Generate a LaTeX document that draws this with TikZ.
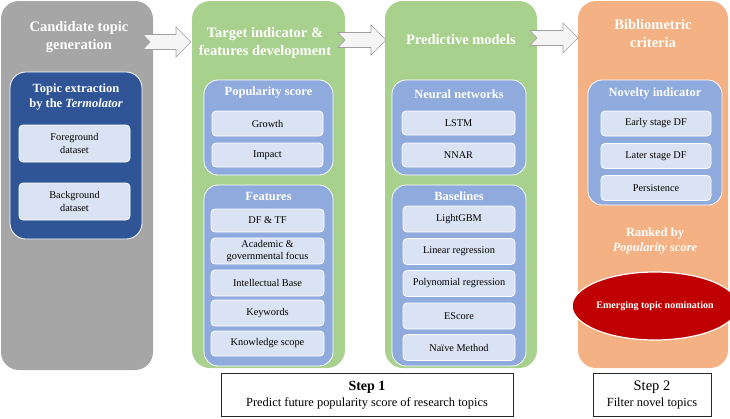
\documentclass[tikz,border=0pt]{standalone}
\usepackage{fontspec}
\setmainfont{Liberation Serif}
\usetikzlibrary{shapes.geometric}

\definecolor{colgray}{HTML}{A6A6A6}
\definecolor{colgreen}{HTML}{A9D18E}
\definecolor{colorange}{HTML}{F4B183}
\definecolor{darkblue}{HTML}{2F5597}
\definecolor{midblue}{HTML}{8FAADC}
\definecolor{lightblue}{HTML}{DAE3F3}
\definecolor{darkred}{HTML}{C00000}

\tikzstyle{colstyle} = [rectangle, rounded corners=18pt, inner sep=0]
\tikzstyle{titlestyle} = [text=white, font=\fontsize{14.5}{18}\selectfont\bfseries, align=center]
\tikzstyle{groupstyle} = [rectangle, rounded corners=14pt, draw=white, line width=0.8pt, fill=midblue, inner sep=0]
\tikzstyle{grouptitle} = [text=white, font=\fontsize{12.5}{15}\selectfont\bfseries, align=center]
\tikzstyle{itemstyle} = [rectangle, rounded corners=4pt, draw=white, line width=0.8pt, fill=lightblue, minimum width=111pt, font=\fontsize{10.3}{12.5}\selectfont, align=center, inner sep=0]
\tikzstyle{stepstyle} = [rectangle, draw=black!85, line width=0.8pt, fill=white, align=center, inner sep=0, font=\fontsize{12.4}{16}\selectfont]
\tikzstyle{blockarrow} = [draw=gray!75, fill=gray!8, line width=0.6pt]

\begin{document}
\begin{tikzpicture}[x=1pt, y=-1pt]
  \useasboundingbox (0,0) rectangle (730,418);

  % columns
  \node at (77,185.5) [colstyle, fill=colgray, minimum width=152pt, minimum height=369pt] (cand) {};
  \node at (268.5,184.5) [colstyle, fill=colgreen, minimum width=153pt, minimum height=367pt] (target) {};
  \node at (461,184.5) [colstyle, fill=colgreen, minimum width=152pt, minimum height=367pt] (pred) {};
  \node at (653,184.5) [colstyle, fill=colorange, minimum width=150pt, minimum height=367pt] (biblio) {};

  \node at (79,37) [titlestyle] (candT) {Candidate topic\\generation};
  \node at (265,43) [titlestyle] (targetT) {Target indicator \&\\features development};
  \node at (461,40) [titlestyle] (predT) {Predictive models};
  \node at (653,34) [titlestyle] (biblioT) {Bibliometric\\criteria};

  % block arrows
  \foreach \x/\y in {143/42, 338/40, 530/38}
    \draw[blockarrow] ({\x},{\y-7.5}) -- ++(33,0) -- ++(0,-7.5) -- ++(15,15) -- ++(-15,15)
      -- ++(0,-7.5) -- ++(-33,0) -- ++(7,-7.5) -- cycle;

  % candidate topic generation
  \node at (76,155.5) [groupstyle, fill=darkblue, rounded corners=16pt, minimum width=132pt, minimum height=167pt] (termo) {};
  \node at (76,97.5) [grouptitle] (termoT) {Topic extraction\\by the \textit{Termolator}};
  \node at (74.5,143.5) [itemstyle, minimum height=37pt] (fg) {Foreground\\dataset};
  \node at (74.5,201.5) [itemstyle, minimum height=37pt] (bg) {Background\\dataset};

  % target indicator
  \node at (268.5,127.5) [groupstyle, minimum width=129pt, minimum height=95pt] (pop) {};
  \node at (268.5,93) [grouptitle] (popT) {Popularity score};
  \node at (267.5,123.5) [itemstyle, minimum height=25pt] (growth) {Growth};
  \node at (267.5,155) [itemstyle, minimum height=24pt] (impact) {Impact};

  \node at (268.5,275.5) [groupstyle, minimum width=129pt, minimum height=181pt] (feat) {};
  \node at (268.5,196) [grouptitle] (featT) {Features};
  \node at (267.5,220.5) [itemstyle, minimum width=113pt, minimum height=23pt] (dftf) {DF \& TF};
  \node at (267.5,251) [itemstyle, minimum width=113pt, minimum height=26pt] (acad) {Academic \&\\governmental focus};
  \node at (267.5,283) [itemstyle, minimum width=113pt, minimum height=26pt] (intel) {Intellectual Base};
  \node at (267.5,313) [itemstyle, minimum width=113pt, minimum height=26pt] (keyw) {Keywords};
  \node at (267.5,343.5) [itemstyle, minimum width=113pt, minimum height=25pt] (know) {Knowledge scope};

  % predictive models
  \node at (459,127.5) [groupstyle, minimum width=134pt, minimum height=95pt] (nn) {};
  \node at (459,94) [grouptitle] (nnT) {Neural networks};
  \node at (458.5,123) [itemstyle, minimum width=113pt, minimum height=24pt] (lstm) {LSTM};
  \node at (458.5,155) [itemstyle, minimum width=113pt, minimum height=24pt] (nnar) {NNAR};

  \node at (459,275.5) [groupstyle, minimum width=134pt, minimum height=181pt] (base) {};
  \node at (459,196) [grouptitle] (baseT) {Baselines};
  \node at (459,219) [itemstyle, minimum width=112pt, minimum height=26pt] (lgbm) {LightGBM};
  \node at (459,251.5) [itemstyle, minimum width=112pt, minimum height=26pt] (linreg) {Linear regression};
  \node at (459,283.5) [itemstyle, minimum width=112pt, minimum height=26pt] (polyreg) {Polynomial regression};
  \node at (459,316) [itemstyle, minimum width=112pt, minimum height=26pt] (escore) {EScore};
  \node at (459,347.5) [itemstyle, minimum width=112pt, minimum height=26pt] (naive) {Naïve Method};

  % bibliometric criteria
  \node at (655,142.5) [groupstyle, minimum width=134pt, minimum height=125pt] (nov) {};
  \node at (655,94) [grouptitle] (novT) {Novelty indicator};
  \node at (656,123.5) [itemstyle, minimum width=110pt, minimum height=25pt] (early) {Early stage DF};
  \node at (656,156) [itemstyle, minimum width=110pt, minimum height=25pt] (later) {Later stage DF};
  \node at (656,188) [itemstyle, minimum width=110pt, minimum height=25pt] (persist) {Persistence};

  \node at (655,241) [grouptitle] (rank) {Ranked by\\\textit{Popularity score}};
  \node at (655,306) [ellipse, fill=darkred, draw=white, line width=1.2pt, minimum width=144pt, minimum height=68pt, inner sep=0, text=white, font=\fontsize{10}{12}\selectfont\bfseries] (nom) {Emerging topic nomination};

  % steps
  \node at (367,395) [stepstyle, minimum width=292pt, minimum height=43pt] (step1)
    {{\fontsize{14}{16}\selectfont\bfseries Step 1}\\Predict future popularity score of research topics};
  \node at (652,395) [stepstyle, minimum width=118pt, minimum height=43pt] (step2)
    {{\fontsize{14.5}{16}\selectfont Step 2}\\Filter novel topics};
\end{tikzpicture}
\end{document}
